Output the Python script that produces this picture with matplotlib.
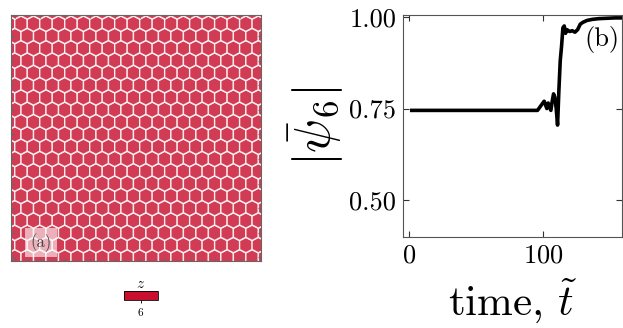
import numpy as np
import matplotlib
matplotlib.use("Agg")
import matplotlib.pyplot as plt
from matplotlib.collections import PolyCollection
from matplotlib.colors import ListedColormap, Normalize
from matplotlib.colorbar import ColorbarBase

plt.rcParams['font.family'] = 'cmr10'
plt.rcParams['mathtext.fontset'] = 'cm'
plt.rcParams['axes.formatter.use_mathtext'] = True

# panel (a): hexagonal packing, every cell has coordination z = 6
n_cols = 20
n_rows = 20
z_value = 6
cell_color = '#c8102e'

# panel (b): order parameter vs time
t = [2, 20, 40, 60, 80, 96, 98, 100, 101, 103, 104, 106, 107, 108, 109, 110, 111,
     112, 113, 114, 115, 116, 117, 118, 120, 122, 124, 126, 128, 130, 133, 137,
     142, 148, 154, 159]
psi6 = [0.745, 0.745, 0.745, 0.745, 0.745, 0.745, 0.755, 0.765, 0.77, 0.75, 0.765,
        0.745, 0.77, 0.79, 0.78, 0.75, 0.705, 0.80, 0.88, 0.92, 0.97, 0.975,
        0.955, 0.965, 0.96, 0.962, 0.958, 0.965, 0.98, 0.985, 0.99, 0.993,
        0.995, 0.996, 0.997, 0.997]

fig = plt.figure(figsize=(6.23, 3.28), dpi=100)

# ---- (a)
ax1 = fig.add_axes([0.0177, 0.204, 0.401, 0.75])
polys = []
for j in range(n_rows + 1):
    for i in range(-1, n_cols + 1):
        cx = i + 0.5 * (j % 2)
        cy = j
        polys.append([(cx, cy + 0.62), (cx + 0.5, cy + 0.36), (cx + 0.5, cy - 0.36),
                      (cx, cy - 0.62), (cx - 0.5, cy - 0.36), (cx - 0.5, cy + 0.36)])
pc = PolyCollection(polys, facecolor=cell_color, edgecolor='white', linewidth=1.0,
                    alpha=0.82, joinstyle='round')
ax1.add_collection(pc)
ax1.set_xlim(-0.3, 19.7)
ax1.set_ylim(-0.3, 19.7)
ax1.set_xticks(np.arange(0, 20, 2))
ax1.set_yticks(np.arange(0, 20, 2))
ax1.tick_params(direction='in', length=2, colors='#666666', labelleft=False, labelbottom=False,
                top=True, right=True)
for s in ax1.spines.values():
    s.set_color('#666666')
ax1.text(0.12, 0.075, '(a)', transform=ax1.transAxes, fontsize=12, color='#444444',
         ha='center', va='center',
         bbox=dict(facecolor='white', alpha=0.6, edgecolor='none', pad=4))

# colour bar for z
cax = fig.add_axes([0.199, 0.0854, 0.0546, 0.0274])
cb = ColorbarBase(cax, cmap=ListedColormap([cell_color]), norm=Normalize(z_value - 0.5, z_value + 0.5),
                  orientation='horizontal', ticks=[z_value])
cb.ax.tick_params(labelsize=8, length=2.5, width=0.6, pad=1.5)
cb.outline.set_linewidth(0.6)
cax.set_title('$z$', fontsize=11, pad=2)

# ---- (b)
ax2 = fig.add_axes([0.647, 0.2774, 0.351, 0.677])
ax2.plot(t, psi6, color='black', linewidth=2.6)
ax2.set_xlim(-4.5, 159)
ax2.set_ylim(0.40, 1.005)
ax2.set_xticks([0, 100])
ax2.set_yticks([0.50, 0.75, 1.00])
ax2.set_yticklabels(['0.50', '0.75', '1.00'])
ax2.tick_params(direction='in', labelsize=19, top=True, right=True, length=4, width=0.8,
                colors='#333333', labelcolor='black', pad=5)
for s in ax2.spines.values():
    s.set_color('#555555')
    s.set_linewidth(0.8)
ax2.set_xlabel(r'time, $\tilde{t}$', fontsize=31, labelpad=6)
ax2.set_ylabel(r'$|\bar{\psi}_6|$', fontsize=36, labelpad=2)
ax2.text(0.99, 0.89, '(b)', transform=ax2.transAxes, fontsize=19, ha='right', va='center')

fig.savefig('out.png', dpi=100)
